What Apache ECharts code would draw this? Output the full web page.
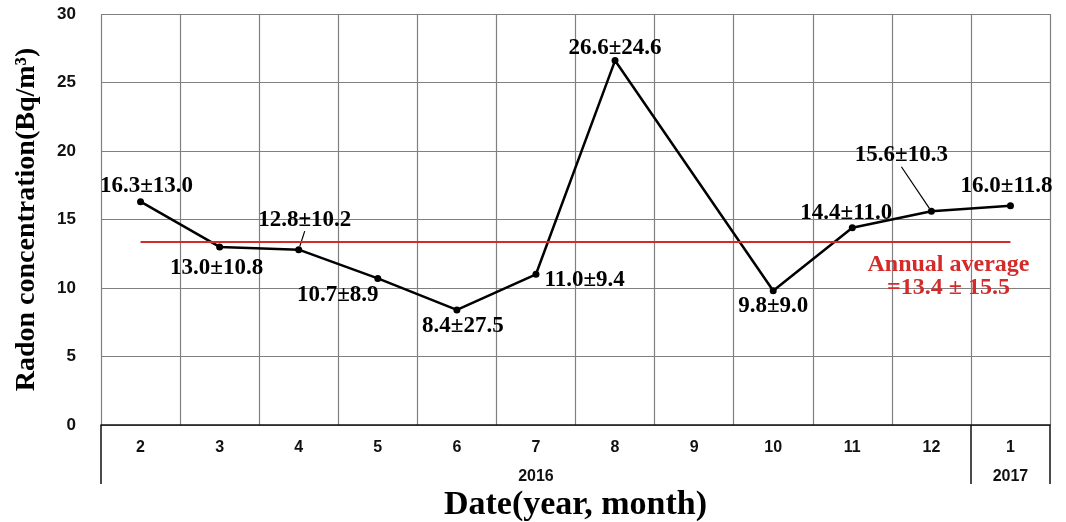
<!DOCTYPE html>
<html>
<head>
<meta charset="utf-8">
<script src="https://cdn.jsdelivr.net/npm/echarts@6/dist/echarts.min.js"></script>
<style>
  html, body { margin: 0; padding: 0; background: #fff; }
  #chart { width: 1066px; height: 522px; }
</style>
</head>
<body>
<div id="chart"></div>
<script>
// monthly radon concentration, Feb 2016 - Jan 2017 (no data for Sep)
var months = ['2', '3', '4', '5', '6', '7', '8', '9', '10', '11', '12', '1'];
var yearLabels = ['', '', '', '', '', '2016', '', '', '', '', '', '2017'];
var radonMean = [16.3, 13.0, 12.8, 10.7, 8.4, 11.0, 26.6, null, 9.8, 14.4, 15.6, 16.0];
var radonSd = [13.0, 10.8, 10.2, 8.9, 27.5, 9.4, 24.6, null, 9.0, 11.0, 10.3, 11.8];
var annualMean = 13.4;
var annualSd = 15.5;
var yTicks = [0, 5, 10, 15, 20, 25, 30];

var serif = '"Liberation Serif", "Times New Roman", serif';
var sans = '"Liberation Sans", Arial, sans-serif';

// where each value label sits around its point
var labelPlace = [
  { position: 'top', dx: 6, dy: 4 },
  { position: 'bottom', dx: -3, dy: 1 },
  { position: 'top', dx: 6, dy: -10, line: true },
  { position: 'bottom', dx: -40, dy: -3 },
  { position: 'bottom', dx: 6, dy: -4 },
  { position: 'right', dx: 0, dy: 6 },
  { position: 'top', dx: 0, dy: 7 },
  null,
  { position: 'bottom', dx: 0, dy: -5 },
  { position: 'top', dx: -6, dy: 5 },
  { position: 'top', dx: -30, dy: -36, line: true },
  { position: 'top', dx: -4, dy: 0 }
];

var seriesData = radonMean.map(function (v, i) {
  if (v == null) return '-';
  var p = labelPlace[i];
  var item = {
    value: v,
    label: { position: p.position }
  };
  if (p.line) {
    item.labelLine = { show: true, lineStyle: { color: '#000', width: 1.2 } };
  }
  return item;
});

var chart = echarts.init(document.getElementById('chart'));

var option = {
  animation: false,
  backgroundColor: '#fff',
  grid: { left: 101, right: 16, top: 14, bottom: 97, outerBoundsMode: 'none', containLabel: false },
  xAxis: [
    {
      type: 'category',
      data: months,
      boundaryGap: true,
      axisLine: { show: true, lineStyle: { color: '#111', width: 1.5 } },
      axisTick: {
        show: true,
        length: 59,
        interval: function (i) { return i === 0 || i === months.length - 1; },
        lineStyle: { color: '#111', width: 1.5 }
      },
      axisLabel: {
        interval: 0,
        margin: 15,
        color: '#111',
        fontFamily: sans,
        fontWeight: 'bold',
        fontSize: 16
      },
      splitLine: { show: true, interval: 0, lineStyle: { color: '#808080', width: 1.2 } }
    },
    {
      type: 'category',
      data: yearLabels,
      position: 'bottom',
      boundaryGap: true,
      axisLine: { show: false },
      axisTick: { show: false },
      splitLine: { show: false },
      axisLabel: {
        interval: 0,
        margin: 44,
        color: '#111',
        fontFamily: sans,
        fontWeight: 'bold',
        fontSize: 16
      },
      name: 'Date(year, month)',
      nameLocation: 'middle',
      nameGap: 63,
      nameMoveOverlap: false,
      nameTextStyle: {
        color: '#000',
        fontFamily: serif,
        fontWeight: 'bold',
        fontSize: 34
      }
    }
  ],
  yAxis: {
    type: 'value',
    min: yTicks[0],
    max: yTicks[yTicks.length - 1],
    interval: yTicks[1] - yTicks[0],
    axisLine: { show: false },
    axisTick: { show: false },
    axisLabel: {
      margin: 25,
      color: '#111',
      fontFamily: sans,
      fontWeight: 'bold',
      fontSize: 17
    },
    splitLine: { show: true, lineStyle: { color: '#808080', width: 1.2 } },
    name: 'Radon concentration(Bq/m³)',
    nameLocation: 'middle',
    nameRotate: 90,
    nameGap: 60,
    nameMoveOverlap: false,
    nameTextStyle: {
      color: '#000',
      fontFamily: serif,
      fontWeight: 'bold',
      fontSize: 28
    }
  },
  series: [
    {
      type: 'line',
      data: seriesData,
      connectNulls: true,
      symbol: 'circle',
      symbolSize: 7,
      itemStyle: { color: '#000' },
      lineStyle: { color: '#000', width: 2.5 },
      label: {
        show: true,
        distance: 5,
        color: '#000',
        fontFamily: serif,
        fontWeight: 'bold',
        fontSize: 23,
        formatter: function (p) {
          return radonMean[p.dataIndex].toFixed(1) + '±' + radonSd[p.dataIndex].toFixed(1);
        }
      },
      labelLayout: function (params) {
        var p = labelPlace[params.dataIndex];
        if (!p) return {};
        return { dx: p.dx, dy: p.dy };
      },
      markLine: {
        silent: true,
        symbol: 'none',
        lineStyle: { color: '#d42a2a', width: 2, type: 'solid' },
        label: {
          show: true,
          position: 'insideEndBottom',
          align: 'center',
          verticalAlign: 'top',
          distance: [62, 12],
          color: '#d42a2a',
          fontFamily: serif,
          fontWeight: 'bold',
          fontSize: 24,
          lineHeight: 23,
          formatter: 'Annual average\n=' + annualMean.toFixed(1) + ' ± ' + annualSd.toFixed(1)
        },
        data: [
          [
            { coord: [months[0], annualMean] },
            { coord: [months[months.length - 1], annualMean] }
          ]
        ]
      }
    }
  ]
};

chart.setOption(option);
</script>
</body>
</html>
